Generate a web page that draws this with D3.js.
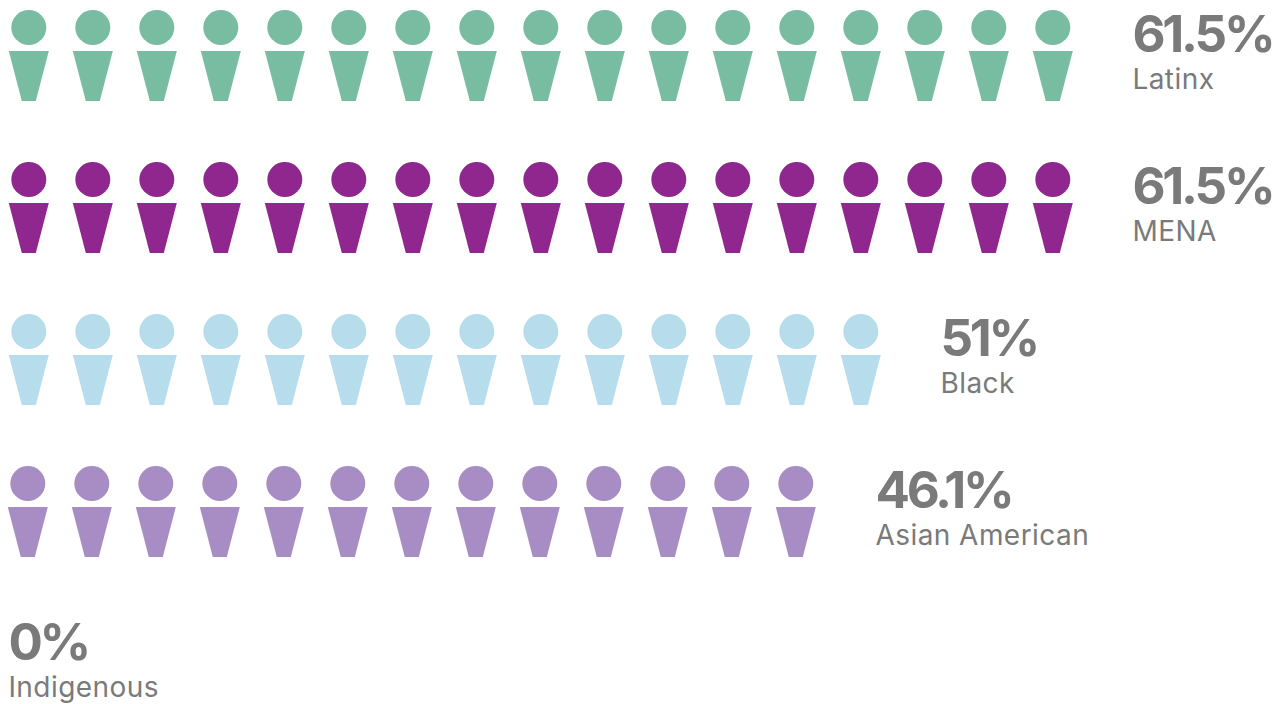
<!DOCTYPE html>
<html>
<head>
<meta charset="utf-8">
<script src="https://cdn.jsdelivr.net/npm/d3@7"></script>
<style>
html, body { margin: 0; padding: 0; background: #fff; overflow: hidden; }
svg { display: block; }
text { font-family: Inter, "Noto Sans", sans-serif; fill: #7a7a7a; }
.pct { font-size: 51px; font-weight: 700; letter-spacing: -3.2px; }
.name { font-size: 28px; font-weight: 400; letter-spacing: 0.45px; }
</style>
</head>
<body>
<div id="chart"></div>
<script>
"use strict";

var groups = ["Latinx", "MENA", "Black", "Asian American", "Indigenous"];
var percents = ["61.5%", "61.5%", "51%", "46.1%", "0%"];
var counts = [17, 17, 14, 13, 0];
var colors = ["#78bca1", "#90278e", "#b7ddec", "#a78dc3", "#7a7a7a"];

var width = 1283, height = 704;

var svg = d3.select("#chart").append("svg")
    .attr("width", width)
    .attr("height", height);

// one step per person, one step per row
var x = d3.scaleLinear().domain([0, 17]).range([28.8, 28.8 + 64 * 17]);
var y = d3.scalePoint().domain(groups).range([0, 608]);

// the asian american row sits a pixel to the left in the original
function rowShift(name) { return name === "Asian American" ? -1 : 0; }

var rows = svg.selectAll("g.row")
    .data(groups)
    .join("g")
    .attr("class", "row")
    .attr("transform", function (d) { return "translate(" + rowShift(d) + "," + y(d) + ")"; });

var people = rows.selectAll("g.person")
    .data(function (d, i) { return d3.range(counts[i]).map(function (k) { return { k: k, color: colors[i] }; }); })
    .join("g")
    .attr("class", "person")
    .attr("transform", function (d) { return "translate(" + x(d.k) + ",0)"; })
    .attr("fill", function (d) { return d.color; });

people.append("circle")
    .attr("cy", 27.5)
    .attr("r", 17.5);

people.append("path")
    .attr("d", "M-20,51L20,51L7,101L-7,101Z");

var labels = rows.append("g")
    .attr("transform", function (d, i) {
        var lx = counts[i] ? x(counts[i] - 1) + 79.6 : 8.4;
        return "translate(" + lx + ",0)";
    });

labels.append("text")
    .attr("class", "pct")
    .attr("y", 52)
    .text(function (d, i) { return percents[i]; });

labels.append("text")
    .attr("class", "name")
    .attr("y", 89)
    .text(function (d) { return d; });
</script>
</body>
</html>
